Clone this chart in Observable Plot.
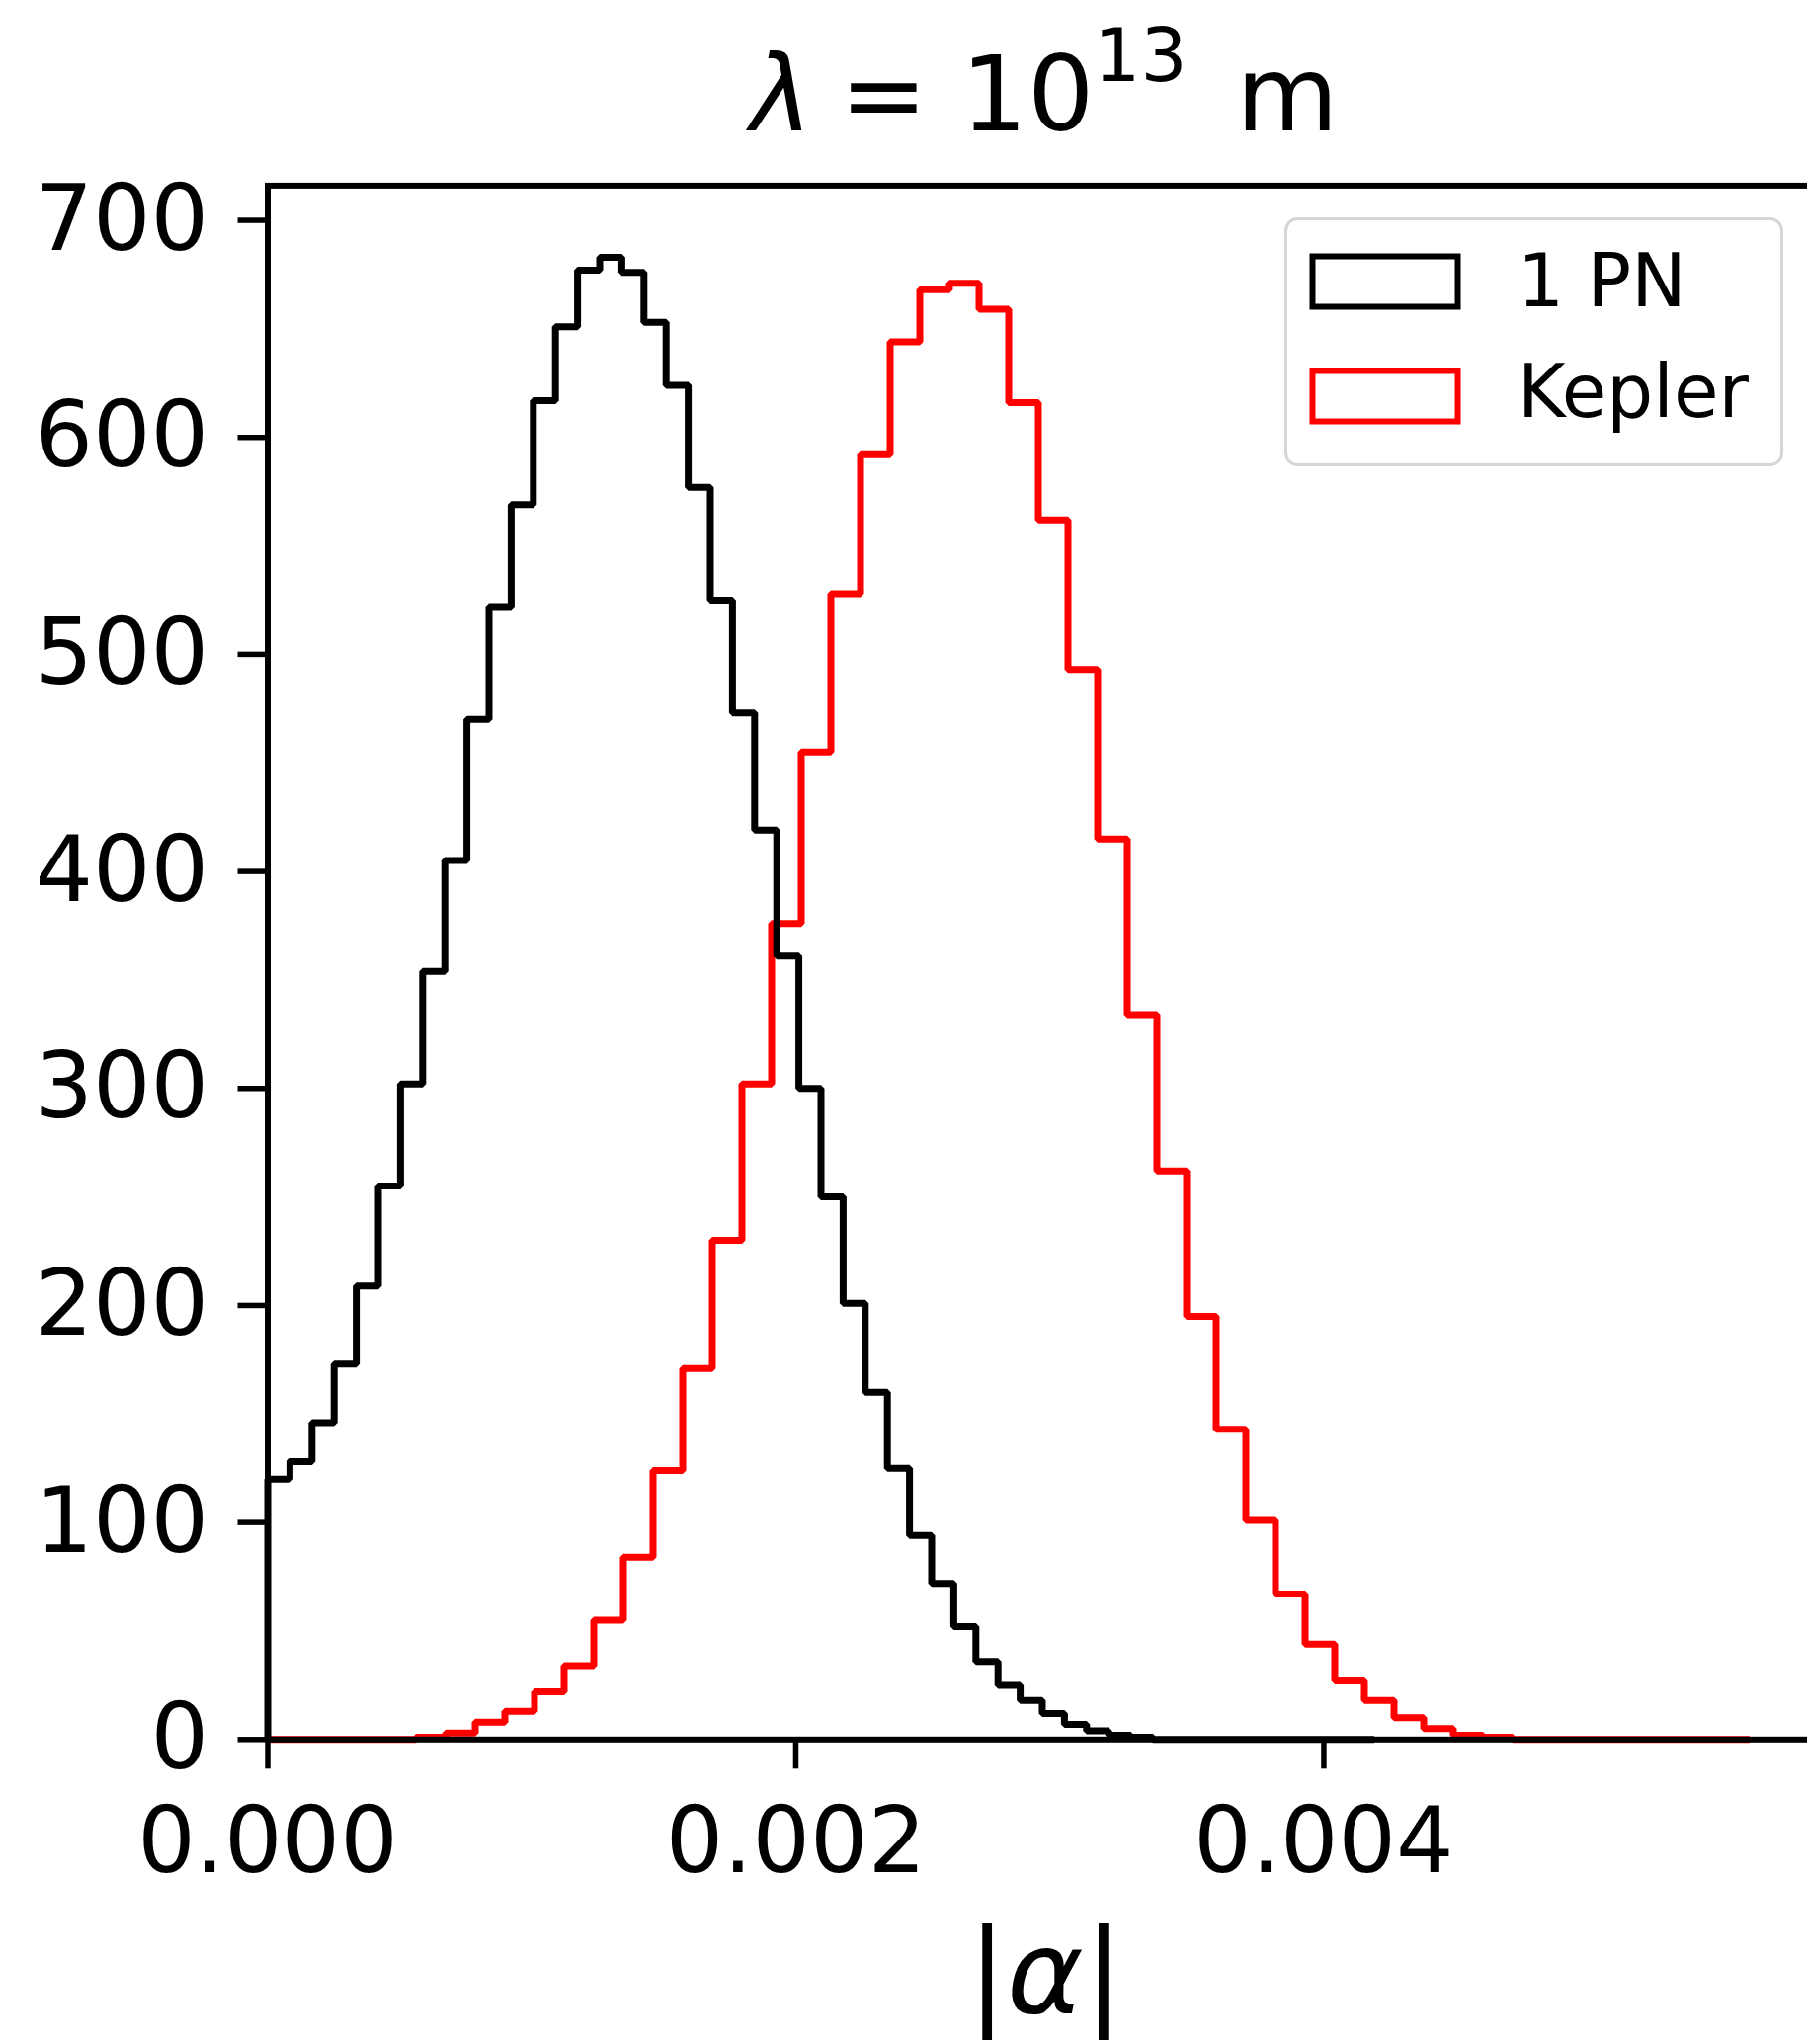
<!DOCTYPE html>
<html>
<head>
<meta charset="utf-8">
<script src="https://cdn.jsdelivr.net/npm/d3@7"></script>
<script src="https://cdn.jsdelivr.net/npm/@observablehq/plot@0.6"></script>
<style>
html, body { margin: 0; padding: 0; background: #fff; }
#wrap { position: relative; width: 1829px; height: 2069px; overflow: hidden; font-family: "DejaVu Sans", sans-serif; background: #fff; }
#wrap svg { display: block; }
#title { position: absolute; left: 0; top: 0; }
#legend { position: absolute; left: 1300px; top: 220px; }
</style>
</head>
<body>
<div id="wrap"></div>
<script>
// ---------- data ----------
const seriesNames = ["1 PN", "Kepler"];
const seriesColors = ["#000000", "#ff0000"];

// histogram counts per bin (50 equal bins each)
const pnCounts = [
  120, 128, 146, 173, 209, 255, 302, 354, 405, 470,
  522, 569, 617, 651, 677, 683, 676, 653, 624, 577,
  525, 473, 419, 361, 300, 250, 201, 160, 125, 94,
  72, 52, 36, 25, 18, 12, 7, 4, 2, 1,
  0, 0, 0, 0, 0, 0, 0, 0, 0, 0
];
const keplerCounts = [
  0, 0, 0, 0, 0, 1, 3, 8, 13, 22,
  34, 55, 84, 124, 171, 230, 302, 376, 455, 528,
  592, 644, 668, 671, 659, 616, 562, 493, 415, 334,
  262, 195, 143, 101, 67, 44, 27, 18, 10, 5,
  2, 1, 0, 0, 0, 0, 0, 0, 0, 0
];
// bin ranges of |alpha|
const pnRange = [0, 0.004191];
const keplerRange = [0, 0.005613];

const xDomain = [0, 0.005894];
const yDomain = [0, 716];
const xTicks = [0, 0.002, 0.004];
const yTicks = [0, 100, 200, 300, 400, 500, 600, 700];
const xTickLabels = ["0.000", "0.002", "0.004"];

// ---------- build step outlines (matplotlib histtype="step") ----------
function outline(counts, range) {
  const n = counts.length;
  const edges = d3.range(n + 1).map(i => range[0] + (range[1] - range[0]) * i / n);
  const pts = [{x: edges[0], y: 0}];
  counts.forEach((c, i) => pts.push({x: edges[i], y: c}));
  pts.push({x: edges[n], y: counts[n - 1]});
  pts.push({x: edges[n], y: 0});
  return pts;
}
const pnPts = outline(pnCounts, pnRange);
const keplerPts = outline(keplerCounts, keplerRange);

const wrap = document.getElementById("wrap");

// ---------- chart ----------
const chart = Plot.plot({
  width: 1829,
  height: 1920,
  marginLeft: 270.5,
  marginRight: -16.6,
  marginTop: 187.4,
  marginBottom: 159.7,
  style: {fontFamily: "DejaVu Sans", background: "white", color: "black", overflow: "hidden"},
  x: {domain: xDomain},
  y: {domain: yDomain},
  marks: [
    Plot.line(keplerPts, {x: "x", y: "y", curve: "step-after", stroke: seriesColors[1], strokeWidth: 7, strokeLinejoin: "miter", strokeLinecap: "butt"}),
    Plot.line(pnPts, {x: "x", y: "y", curve: "step-after", stroke: seriesColors[0], strokeWidth: 7, strokeLinejoin: "miter", strokeLinecap: "butt"}),
    Plot.frame({stroke: "#000", strokeWidth: 6}),
    Plot.axisX({ticks: xTicks, tickFormat: d => xTickLabels[xTicks.indexOf(d)], tickSize: 30, tickPadding: 39, fontSize: 92, strokeWidth: 5.5, label: null}),
    Plot.axisY({ticks: yTicks, tickFormat: d => String(d), tickSize: 30, tickPadding: 30, fontSize: 92, strokeWidth: 5.5, label: null})
  ]
});
wrap.appendChild(chart);

// ---------- title (overlaid above the plot area) ----------
const titleSvg = d3.create("svg").attr("id", "title").attr("width", 1829).attr("height", 175);
const tt = titleSvg.append("text")
  .attr("x", 1057).attr("y", 132)
  .attr("text-anchor", "middle")
  .attr("font-family", "DejaVu Sans")
  .attr("font-size", 106)
  .attr("fill", "#000");
tt.append("tspan").attr("font-style", "italic").text("λ");
tt.append("tspan").attr("dx", -6).text(" = 10");
tt.append("tspan").attr("font-size", 74).attr("dy", -50).text("13");
tt.append("tspan").attr("dy", 50).attr("dx", 16).text(" m");
wrap.appendChild(titleSvg.node());

// ---------- x label ----------
const xl = d3.create("svg").attr("width", 1829).attr("height", 149);
const xt = xl.append("text")
  .attr("x", 1058).attr("y", 117)
  .attr("text-anchor", "middle")
  .attr("font-family", "DejaVu Sans")
  .attr("font-size", 118)
  .attr("fill", "#000");
xt.append("tspan").text("|");
xt.append("tspan").attr("font-style", "italic").text("α");
xt.append("tspan").text("|");
wrap.appendChild(xl.node());

// ---------- legend ----------
const lg = d3.create("svg").attr("id", "legend").attr("width", 506).attr("height", 253);
lg.append("rect").attr("x", 1.5).attr("y", 1.5).attr("width", 502).attr("height", 249)
  .attr("rx", 12).attr("fill", "white").attr("fill-opacity", 0.8)
  .attr("stroke", "#d6d6d6").attr("stroke-width", 3);
seriesNames.forEach((name, i) => {
  lg.append("rect").attr("x", 28.5).attr("y", 39.5 + i * 116).attr("width", 147).attr("height", 51)
    .attr("fill", "none").attr("stroke", seriesColors[i]).attr("stroke-width", 6);
  lg.append("text").attr("x", 236).attr("y", 90 + i * 112)
    .attr("font-family", "DejaVu Sans").attr("font-size", 74).attr("fill", "#000")
    .text(name);
});
wrap.appendChild(lg.node());
</script>
</body>
</html>
